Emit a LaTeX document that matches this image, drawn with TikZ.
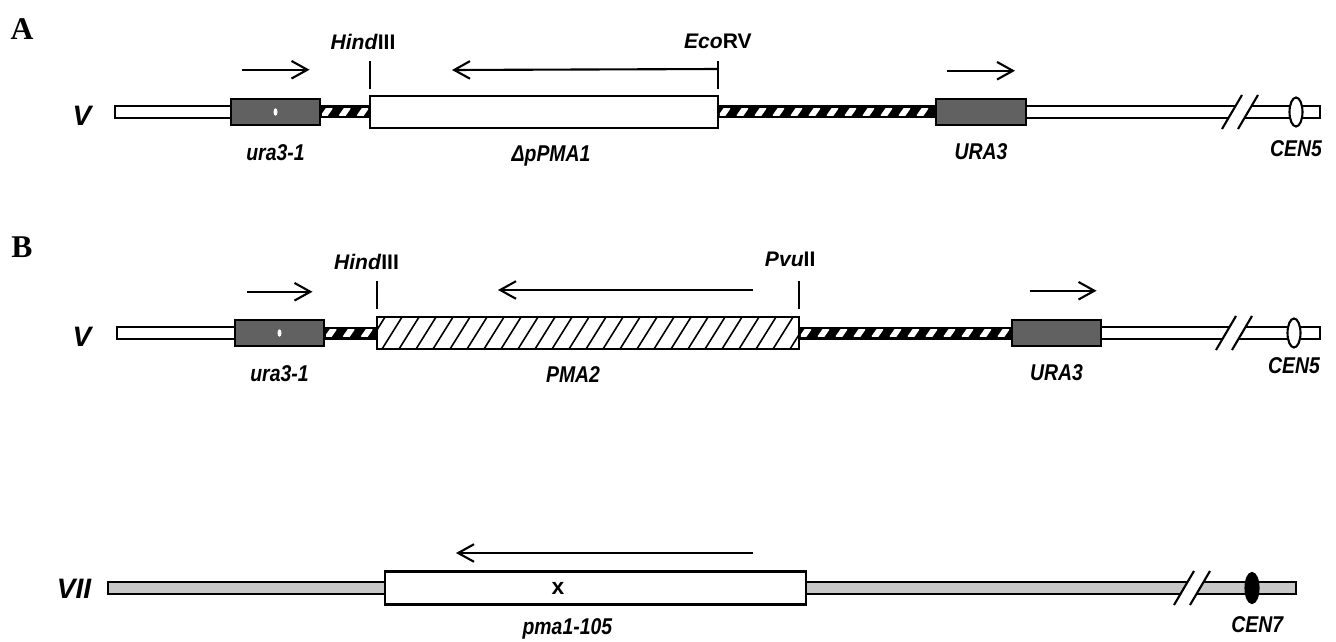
\documentclass[tikz,border=0pt]{standalone}
\usepackage{fontspec}
\setmainfont{Liberation Serif}
\newfontfamily\genefont[FakeStretch=0.85]{Liberation Sans}
\newfontfamily\sitefont{Liberation Sans}
\usetikzlibrary{arrows.meta,calc,positioning,shapes.geometric}

% plain chromosome bar between two points
\newcommand{\chrbar}[3][white]{%
  \draw[line width=1.2pt, fill=#1] ($(#2)+(0,-6)$) rectangle ($(#3)+(0,6)$);}
% black bar with white slanted dashes
\newcommand{\hatchbar}[2]{%
  \fill ($(#1)+(0,-6.5)$) rectangle ($(#2)+(0,6.5)$);
  \begin{scope}
    \clip ($(#1)+(2,-3.5)$) rectangle ($(#2)+(-2,3.5)$);
    \foreach \i in {0,...,13}
      \draw[white, line width=3.4pt] ($(#1)+(\i*18+3,5)$) -- ++(7,-10);
  \end{scope}}
% break mark "//"
\newcommand{\chrbreak}[1]{%
  \fill[white] ($(#1)+(-18,17)$) -- ($(#1)+(2,-17)$) -- ($(#1)+(18,-17)$)
    -- ($(#1)+(-2,17)$) -- cycle;
  \draw[line width=1.2pt] ($(#1)+(-18,17)$) -- ++(20,-34);
  \draw[line width=1.2pt] ($(#1)+(-2,17)$) -- ++(20,-34);}

\begin{document}
\begin{tikzpicture}[
      x=0.02cm, y=-0.02cm,
      >={Straight Barb[length=9pt,width=10pt]},
      genebox/.style={rectangle, draw, line width=1.3pt, fill=black!62,
            minimum width=1.79cm, minimum height=0.53cm, inner sep=0pt, outer sep=0pt},
      orfbox/.style={rectangle, draw, line width=1.3pt, fill=white,
            minimum height=0.64cm, inner sep=0pt, outer sep=0pt},
      cenmark/.style={ellipse, draw, line width=1.2pt, fill=white,
            minimum width=0.26cm, minimum height=0.58cm, inner sep=0pt},
      dot/.style={ellipse, fill=white, minimum width=0.08cm, minimum height=0.15cm, inner sep=0pt},
      genelab/.style={font=\genefont\bfseries\itshape\fontsize{13}{15}\selectfont, inner sep=0pt},
      sitelab/.style={font=\sitefont\bfseries\fontsize{12}{14}\selectfont, inner sep=0pt},
      chrlab/.style={font=\sitefont\bfseries\itshape\fontsize{16}{18}\selectfont, inner sep=0pt},
      panel/.style={font=\bfseries\fontsize{18}{20}\selectfont, inner sep=0pt},
      tick/.style={line width=1.2pt},
      gdir/.style={->, line width=1.2pt}
]
\useasboundingbox (0,0) rectangle (1336,642);

% ---------------- A
\node[panel] (panA) at (22,29) {A};
\node[chrlab] (chrA) at (82,116) {V};
\coordinate (lA) at (115,112);
\coordinate (rA) at (1320,112);
\node[genebox] (uraA) at (275.5,112) {};
\node[orfbox, minimum width=6.96cm] (pmaA) at (544,112) {};
\node[genebox] (URAA) at (981,112) {};

\chrbar{lA}{uraA.west}
\hatchbar{uraA.east}{pmaA.west}
\hatchbar{pmaA.east}{URAA.west}
\chrbar{URAA.east}{rA}
\chrbreak{1240,112}
\node[cenmark] (cen5A) at (1296,112) {};
\node[dot] at (uraA.center) {};

\coordinate (hindA) at ($(pmaA.north west)+(0,-35)$);
\coordinate (ecoA) at ($(pmaA.north east)+(0,-35)$);
\coordinate (tipA) at (452,70);
\draw[tick] (hindA) -- ++(0,28);
\draw[tick] (ecoA) -- ++(0,28);
\draw[gdir] ($(ecoA)+(0,8)$) -- (tipA);
\draw[gdir] ($(uraA.north)+(-34,-29)$) -- ++(68,0);
\draw[gdir] ($(URAA.north)+(-34,-28)$) -- ++(68,0);

\node[sitelab, above=6pt of hindA, xshift=-4pt] {\textit{Hind}III};
\node[sitelab, above=7pt of ecoA] {\textit{Eco}RV};
\node[genelab, below=11pt of uraA] {ura3-1};
\node[genelab, below=10pt of pmaA, xshift=4pt] {ΔpPMA1};
\node[genelab, below=10pt of URAA] {URA3};
\node[genelab, below=7pt of cen5A] {CEN5};

% ---------------- B
\node[panel] (panB) at (22,247) {B};
\node[chrlab] (chrB) at (82,337) {V};
\coordinate (lB) at (117,333);
\coordinate (rB) at (1320,333);
\node[genebox] (uraB) at (279.5,333) {};
\node[orfbox, minimum width=8.44cm] (pmaB) at (588,333) {};
\node[genebox] (URAB) at (1056.5,333) {};

\chrbar{lB}{uraB.west}
\hatchbar{uraB.east}{pmaB.west}
\hatchbar{pmaB.east}{URAB.west}
\chrbar{URAB.east}{rB}
\chrbreak{1234,333}
\node[cenmark] (cen5B) at (1294,333) {};
\node[dot] at (uraB.center) {};
\begin{scope}
  \clip (pmaB.south west) rectangle (pmaB.north east);
  \foreach \i in {0,...,26}
    \draw[line width=0.9pt] ($(pmaB.south west)+(\i*17-12,0)$) -- ++(20,-32);
\end{scope}
\draw[line width=1.3pt] (pmaB.south west) rectangle (pmaB.north east);

\coordinate (hindB) at ($(pmaB.north west)+(0,-36)$);
\coordinate (pvuB) at ($(pmaB.north east)+(0,-36)$);
\coordinate (tailB) at (753,290);
\coordinate (tipB) at (498,290);
\draw[tick] (hindB) -- ++(0,28);
\draw[tick] (pvuB) -- ++(0,28);
\draw[gdir] (tailB) -- (tipB);
\draw[gdir] ($(uraB.north)+(-33,-28)$) -- ++(66,0);
\draw[gdir] ($(URAB.north)+(-27,-29)$) -- ++(67,0);

\node[sitelab, above=6pt of hindB, xshift=-6pt] {\textit{Hind}III};
\node[sitelab, above=8pt of pvuB, xshift=-5pt] {\textit{Pvu}II};
\node[genelab, below=11pt of uraB] {ura3-1};
\node[genelab, below=10pt of pmaB, xshift=-8.5pt] {PMA2};
\node[genelab, below=10pt of URAB] {URA3};
\node[genelab, below=5pt of cen5B] {CEN5};

% ---------------- C
\node[chrlab] (chrC) at (74,589) {VII};
\coordinate (lC) at (108,588);
\coordinate (rC) at (1296,588);
\node[orfbox, minimum width=8.42cm, minimum height=0.66cm] (pmaC) at (595.5,588) {};
\chrbar[black!22]{lC}{pmaC.west}
\chrbar[black!22]{pmaC.east}{rC}
\chrbreak{1192,588}
\node[cenmark, fill=black, minimum height=0.6cm] (cen7) at (1252,588) {};
\node[font=\sitefont\bfseries\fontsize{13}{14}\selectfont, inner sep=0pt] (mut) at (558,588) {x};

\coordinate (tailC) at (753,553);
\coordinate (tipC) at (456,553);
\draw[gdir] (tailC) -- (tipC);

\node[genelab, below=8pt of pmaC, xshift=-16pt] {pma1-105};
\node[genelab, below=7pt of cen7, xshift=3pt] {CEN7};
\end{tikzpicture}
\end{document}
